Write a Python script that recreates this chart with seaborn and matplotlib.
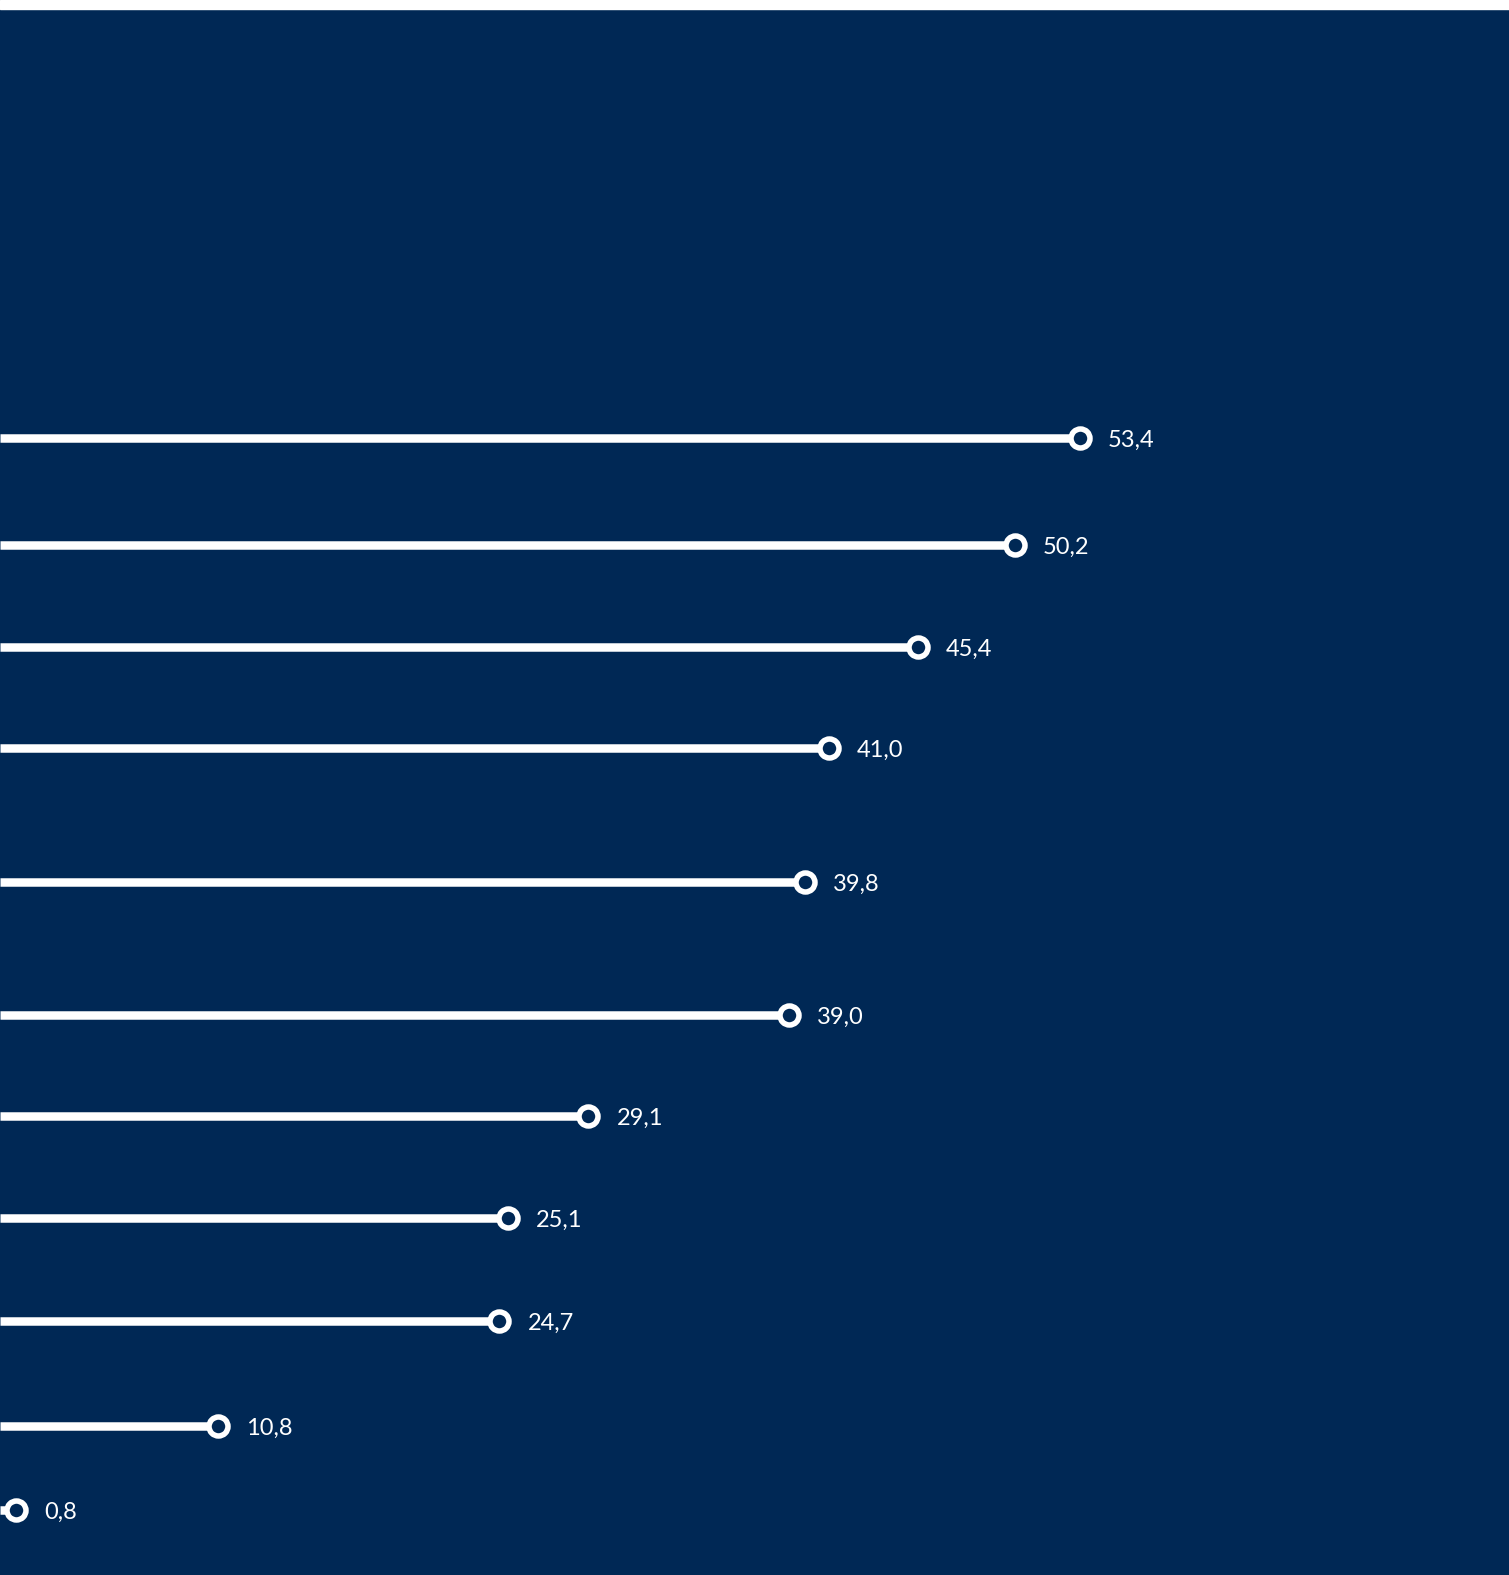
import numpy as np
import pandas as pd
import seaborn as sns
import matplotlib.pyplot as plt

# valores del grafico (de arriba hacia abajo)
valores = [53.4, 50.2, 45.4, 41.0, 39.8, 39.0, 29.1, 25.1, 24.7, 10.8, 0.8]
etiquetas = ["53,4", "50,2", "45,4", "41,0", "39,8", "39,0", "29,1", "25,1", "24,7", "10,8", "0,8"]
# filas (centro de cada fila en pixeles, el espaciado no es regular)
filas = [438, 545, 647, 748, 882, 1015, 1116, 1218, 1321, 1426, 1510]

df = pd.DataFrame({"valor": valores, "etiqueta": etiquetas, "fila": filas})

azul = "#002855"
W, H, dpi = 1509, 1575, 100
px_por_unidad = 20.22

sns.set_style("white")
plt.rcParams["font.family"] = ["Lato", "DejaVu Sans"]

fig = plt.figure(figsize=(W / dpi, H / dpi), dpi=dpi, facecolor=azul)
ax = fig.add_axes([0, 0, 1, 1])
ax.set_facecolor(azul)
ax.set_xlim(0, W / px_por_unidad)
ax.set_ylim(H, 0)

# franja blanca arriba
ax.axhspan(0, 9, color="white", zorder=0)

ax.hlines(df["fila"], 0, df["valor"], color="white", lw=8.5 * 72 / dpi, zorder=2)
sns.scatterplot(data=df, x="valor", y="fila", ax=ax, s=(19 * 72 / dpi) ** 2,
                color=azul, edgecolor="white", linewidth=5.5 * 72 / dpi, zorder=3,
                legend=False, clip_on=False)

for _, r in df.iterrows():
    ax.annotate(r["etiqueta"], (r["valor"], r["fila"]), xytext=(28 * 72 / dpi, 0),
                textcoords="offset points", va="center_baseline", ha="left",
                color="white", fontsize=17)

ax.set_xticks([])
ax.set_yticks([])
ax.set_xlabel("")
ax.set_ylabel("")
sns.despine(ax=ax, left=True, bottom=True)
fig.savefig("out.png", dpi=dpi, facecolor=azul)
